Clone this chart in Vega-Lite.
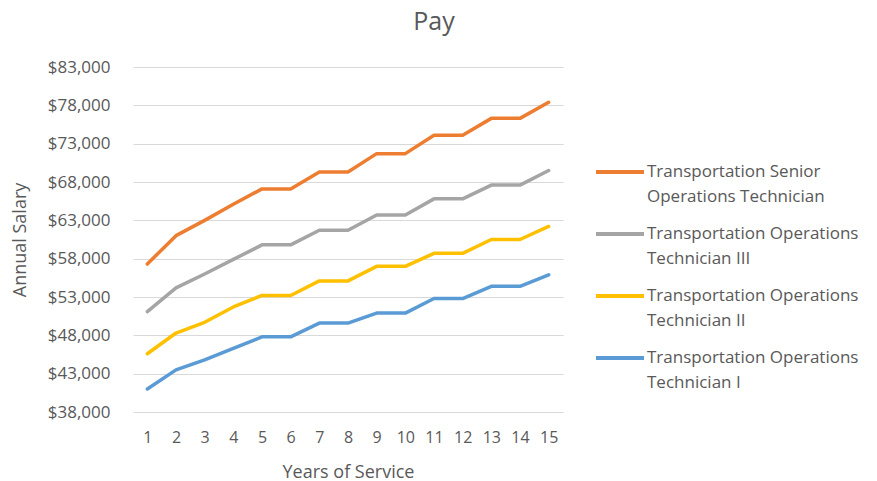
{
  "$schema": "https://vega.github.io/schema/vega-lite/v6.json",
  "width": 430,
  "height": 345,
  "autosize": {"type": "none"},
  "padding": {"left": 133, "top": 67, "right": 314, "bottom": 69},
  "background": "white",
  "title": {"text": "Pay", "fontSize": 25, "font": "Open Sans", "fontWeight": "normal", "color": "#595959", "dx": 86, "offset": 23, "anchor": "middle"},
  "datasets": {
    "pay": [
      {"year": 1, "job": "Senior", "salary": 57300},
      {"year": 2, "job": "Senior", "salary": 61000},
      {"year": 3, "job": "Senior", "salary": 63000},
      {"year": 4, "job": "Senior", "salary": 65100},
      {"year": 5, "job": "Senior", "salary": 67100},
      {"year": 6, "job": "Senior", "salary": 67100},
      {"year": 7, "job": "Senior", "salary": 69300},
      {"year": 8, "job": "Senior", "salary": 69300},
      {"year": 9, "job": "Senior", "salary": 71700},
      {"year": 10, "job": "Senior", "salary": 71700},
      {"year": 11, "job": "Senior", "salary": 74100},
      {"year": 12, "job": "Senior", "salary": 74100},
      {"year": 13, "job": "Senior", "salary": 76300},
      {"year": 14, "job": "Senior", "salary": 76300},
      {"year": 15, "job": "Senior", "salary": 78400},
      {"year": 1, "job": "III", "salary": 51100},
      {"year": 2, "job": "III", "salary": 54200},
      {"year": 3, "job": "III", "salary": 56000},
      {"year": 4, "job": "III", "salary": 57900},
      {"year": 5, "job": "III", "salary": 59800},
      {"year": 6, "job": "III", "salary": 59800},
      {"year": 7, "job": "III", "salary": 61700},
      {"year": 8, "job": "III", "salary": 61700},
      {"year": 9, "job": "III", "salary": 63700},
      {"year": 10, "job": "III", "salary": 63700},
      {"year": 11, "job": "III", "salary": 65800},
      {"year": 12, "job": "III", "salary": 65800},
      {"year": 13, "job": "III", "salary": 67600},
      {"year": 14, "job": "III", "salary": 67600},
      {"year": 15, "job": "III", "salary": 69500},
      {"year": 1, "job": "II", "salary": 45600},
      {"year": 2, "job": "II", "salary": 48300},
      {"year": 3, "job": "II", "salary": 49700},
      {"year": 4, "job": "II", "salary": 51700},
      {"year": 5, "job": "II", "salary": 53200},
      {"year": 6, "job": "II", "salary": 53200},
      {"year": 7, "job": "II", "salary": 55100},
      {"year": 8, "job": "II", "salary": 55100},
      {"year": 9, "job": "II", "salary": 57000},
      {"year": 10, "job": "II", "salary": 57000},
      {"year": 11, "job": "II", "salary": 58700},
      {"year": 12, "job": "II", "salary": 58700},
      {"year": 13, "job": "II", "salary": 60500},
      {"year": 14, "job": "II", "salary": 60500},
      {"year": 15, "job": "II", "salary": 62200},
      {"year": 1, "job": "I", "salary": 41000},
      {"year": 2, "job": "I", "salary": 43500},
      {"year": 3, "job": "I", "salary": 44800},
      {"year": 4, "job": "I", "salary": 46300},
      {"year": 5, "job": "I", "salary": 47800},
      {"year": 6, "job": "I", "salary": 47800},
      {"year": 7, "job": "I", "salary": 49600},
      {"year": 8, "job": "I", "salary": 49600},
      {"year": 9, "job": "I", "salary": 50900},
      {"year": 10, "job": "I", "salary": 50900},
      {"year": 11, "job": "I", "salary": 52800},
      {"year": 12, "job": "I", "salary": 52800},
      {"year": 13, "job": "I", "salary": 54400},
      {"year": 14, "job": "I", "salary": 54400},
      {"year": 15, "job": "I", "salary": 55900}
    ]
  },
  "data": {"name": "pay"},
  "mark": {"type": "line", "strokeWidth": 3.5, "strokeJoin": "round", "strokeCap": "round"},
  "encoding": {
    "x": {
      "field": "year", "type": "ordinal",
      "scale": {"type": "point", "padding": 0.5},
      "axis": {"title": "Years of Service", "labelAngle": 0, "grid": false, "domain": false, "ticks": false, "labelPadding": 17, "titlePadding": 18}
    },
    "y": {
      "field": "salary", "type": "quantitative",
      "scale": {"domain": [38000, 83000], "nice": false, "zero": false},
      "axis": {
        "title": "Annual Salary",
        "values": [38000, 43000, 48000, 53000, 58000, 63000, 68000, 73000, 78000, 83000],
        "format": "$,d",
        "labelFontSize": 17,
        "domain": false, "ticks": false, "labelPadding": 23, "titlePadding": 18
      }
    },
    "color": {
      "field": "job", "type": "nominal",
      "scale": {"domain": ["Senior", "III", "II", "I"], "range": ["#ED7D31", "#A5A5A5", "#FFC000", "#5B9BD5"]},
      "legend": {
        "title": null,
        "orient": "none",
        "legendX": 461,
        "legendY": 79,
        "symbolType": "stroke",
        "symbolSize": 2304,
        "symbolStrokeWidth": 4,
        "rowPadding": 3,
        "labelOffset": 1,
        "labelLimit": 400,
        "labelExpr": "datum.label == 'Senior' ? ['Transportation Senior', '\u00a0Operations Technician'] : datum.label == 'III' ? ['Transportation Operations', 'Technician III'] : datum.label == 'II' ? ['Transportation Operations', 'Technician II'] : ['Transportation Operations', 'Technician I']",
        "encoding": {"labels": {"lineHeight": {"value": 25}}}
      }
    }
  },
  "config": {
    "font": "Open Sans",
    "view": {"stroke": null},
    "axis": {
      "labelFont": "Open Sans", "labelFontSize": 16, "labelColor": "#595959",
      "titleFont": "Open Sans", "titleFontSize": 18, "titleColor": "#595959", "titleFontWeight": "normal",
      "gridColor": "#d9d9d9", "gridWidth": 1
    },
    "legend": {"labelFont": "Open Sans", "labelFontSize": 17, "labelColor": "#595959"}
  }
}
